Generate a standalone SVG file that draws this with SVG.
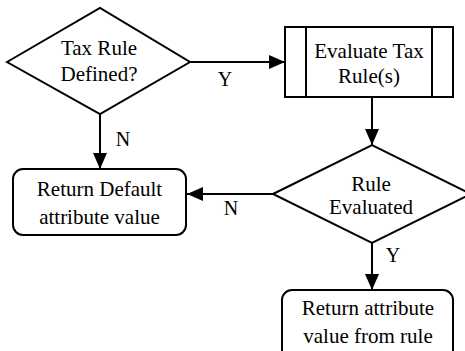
<svg xmlns="http://www.w3.org/2000/svg" width="465" height="351" viewBox="0 0 465 351">
  <style>
    .shape { fill: #ffffff; stroke: #000000; stroke-width: 2; }
    .edge { fill: none; stroke: #000000; stroke-width: 2; marker-end: url(#arrow); }
    .t { font-size: 21px; fill: #000000; text-anchor: middle; }
    .lbl { font-size: 20px; fill: #000000; text-anchor: middle; }
  </style>
  <defs>
    <marker id="arrow" markerUnits="userSpaceOnUse" markerWidth="16" markerHeight="14" refX="16" refY="7" orient="auto">
      <path d="M0,0 L16,7 L0,14 Z" fill="#000000"/>
    </marker>
  </defs>

  <g font-family="'Liberation Serif', serif">
    <g id="connectors">
      <line class="edge" x1="190" y1="62" x2="285" y2="62"/>
      <line class="edge" x1="372" y1="98" x2="372" y2="145"/>
      <line class="edge" x1="100" y1="114" x2="100" y2="169"/>
      <line class="edge" x1="273" y1="194" x2="187" y2="194"/>
      <line class="edge" x1="372" y1="243" x2="372" y2="290"/>
      <text class="lbl" x="225" y="86">Y</text>
      <text class="lbl" x="123" y="146">N</text>
      <text class="lbl" x="231" y="215">N</text>
      <text class="lbl" x="393" y="262">Y</text>
    </g>

    <g id="tax-rule-defined">
      <polygon class="shape" points="7,62 100,8 190,62 100,114"/>
      <text class="t" x="99" y="55">Tax Rule</text>
      <text class="t" x="99" y="81">Defined?</text>
    </g>

    <g id="evaluate-tax-rules">
      <rect class="shape" x="285" y="27" width="168" height="70"/>
      <line class="shape" x1="306" y1="27" x2="306" y2="97"/>
      <line class="shape" x1="432" y1="27" x2="432" y2="97"/>
      <text class="t" x="369" y="58">Evaluate Tax</text>
      <text class="t" x="369" y="83">Rule(s)</text>
    </g>

    <g id="rule-evaluated">
      <polygon class="shape" points="273,194 372,145 471,194 372,243"/>
      <text class="t" x="371" y="191">Rule</text>
      <text class="t" x="371" y="214">Evaluated</text>
    </g>

    <g id="return-default">
      <rect class="shape" x="13" y="169" width="173" height="66" rx="10" ry="10"/>
      <text class="t" x="99.5" y="196">Return Default</text>
      <text class="t" x="99.5" y="224">attribute value</text>
    </g>

    <g id="return-from-rule">
      <rect class="shape" x="282" y="290" width="171" height="72" rx="10" ry="10"/>
      <text class="t" x="368" y="315">Return attribute</text>
      <text class="t" x="368" y="343">value from rule</text>
    </g>
  </g>
</svg>
